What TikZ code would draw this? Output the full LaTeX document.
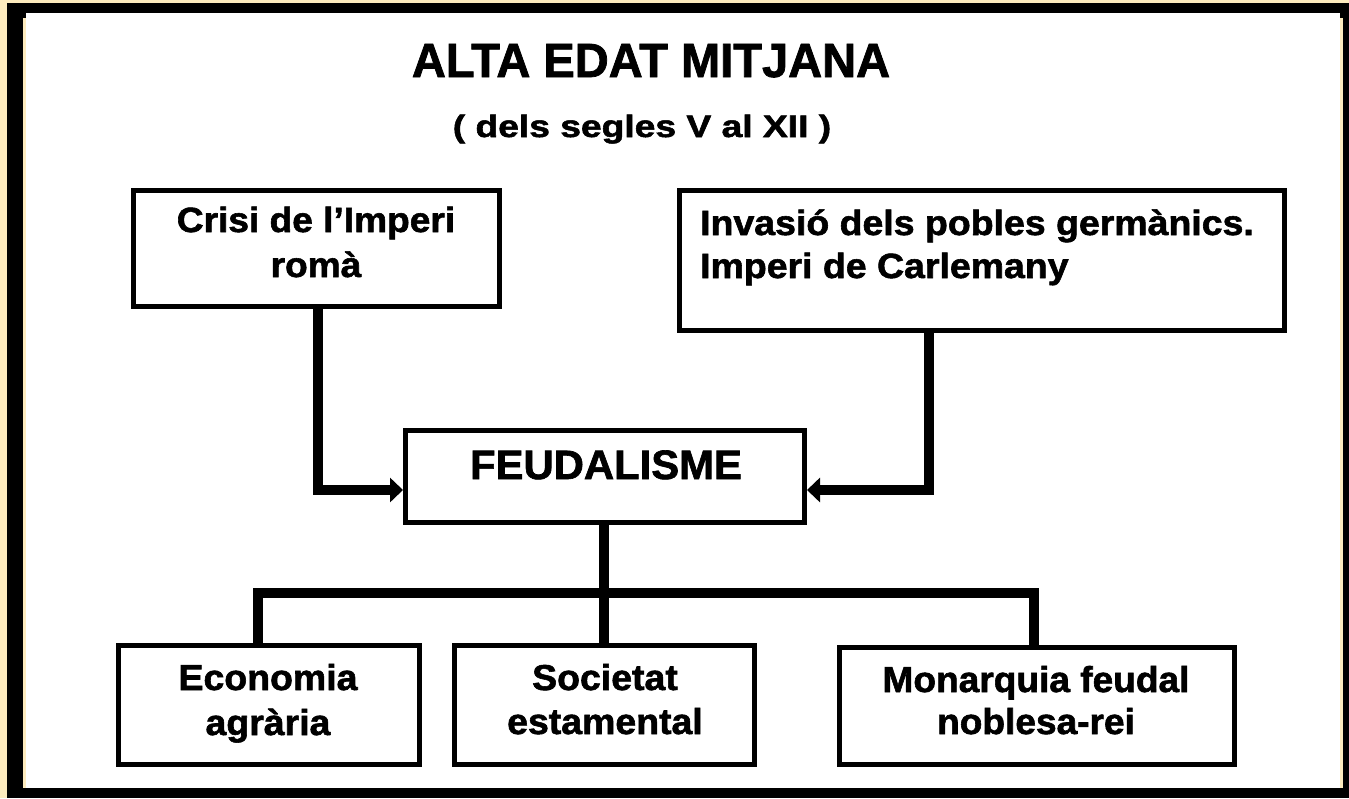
\documentclass[tikz,border=0pt]{standalone}
\usepackage{fontspec}
\setmainfont{Liberation Sans}[BoldFeatures={FakeBold=1.6}]
\usepackage{graphicx}
\usetikzlibrary{arrows.meta}
\definecolor{paleyel}{HTML}{FDEBBE}
\newcommand{\wtxt}[3]{\scalebox{#1}[1]{\begin{tabular}[t]{@{}#2@{}}#3\end{tabular}}}
\begin{document}
\begin{tikzpicture}[x=1pt,y=-1pt,
  box/.style={draw=black, line width=5pt, fill=white, rectangle, inner sep=0pt},
  lbl/.style={anchor=base, inner sep=0pt, font=\bfseries},
  conn/.style={line width=10pt, line join=miter, draw=black},
  arr/.style={conn, -{Triangle[length=13pt,width=24pt]}}]
% frame
\useasboundingbox (0,0) rectangle (1349,798);
\fill[paleyel] (0,0) rectangle (1349,798);
\fill[black] (7,3) rectangle (1349,798);
\fill[paleyel] (23,18) rectangle (1343,788);
\fill[white] (26,13) rectangle (1340,788);
% title
\node[lbl, font=\bfseries\fontsize{48}{56}\selectfont] (title) at (651,77) {\scalebox{0.98}[1]{ALTA EDAT MITJANA}};
\node[lbl, font=\bfseries\fontsize{31}{35}\selectfont] (sub) at (642,137) {\scalebox{1.2}[1]{( dels segles V al XII )}};
% boxes
\node[box, minimum width=366pt, minimum height=116pt] (crisi) at (316.5,248.5) {};
\node[box, minimum width=605pt, minimum height=140pt] (inv) at (982,260.5) {};
\node[box, minimum width=399pt, minimum height=92pt] (feud) at (605,476.5) {};
\node[box, minimum width=301pt, minimum height=119pt] (eco) at (269,705) {};
\node[box, minimum width=300pt, minimum height=119pt] (soc) at (604.5,705) {};
\node[box, minimum width=395pt, minimum height=117pt] (mon) at (1037,706) {};
% labels
\node[lbl, font=\bfseries\fontsize{35}{45}\selectfont] (tcrisi) at (316,232) {\wtxt{1.06}{c}{Crisi de l’Imperi\\romà}};
\node[lbl, anchor=base west, font=\bfseries\fontsize{35}{43}\selectfont] (tinv) at (700,235) {\wtxt{1.07}{l}{Invasió dels pobles germànics.\\Imperi de Carlemany}};
\node[lbl, font=\bfseries\fontsize{41}{48}\selectfont] (tfeud) at (606,479) {\scalebox{1.02}[1]{FEUDALISME}};
\node[lbl, font=\bfseries\fontsize{36}{45}\selectfont] (teco) at (268,690) {\wtxt{1.04}{c}{Economia\\agrària}};
\node[lbl, font=\bfseries\fontsize{36}{44}\selectfont] (tsoc) at (605,690) {\wtxt{1.04}{c}{Societat\\estamental}};
\node[lbl, font=\bfseries\fontsize{36}{42}\selectfont] (tmon) at (1036,692) {\wtxt{1.03}{c}{Monarquia feudal\\noblesa-rei}};
% connectors
\coordinate (c1) at (318,490);
\coordinate (c2) at (929,490);
\coordinate (j1) at (258,593);
\coordinate (j2) at (604,593);
\coordinate (j3) at (1034,593);
\draw[arr] (crisi.south -| c1) -- (c1) -- (feud.west |- c1);
\draw[arr] (inv.south -| c2) -- (c2) -- (feud.east |- c2);
\draw[conn] (feud.south -| j2) -- (soc.north -| j2);
\draw[conn] (eco.north -| j1) -- (j1) -- (j3) -- (mon.north -| j3);
\end{tikzpicture}
\end{document}
